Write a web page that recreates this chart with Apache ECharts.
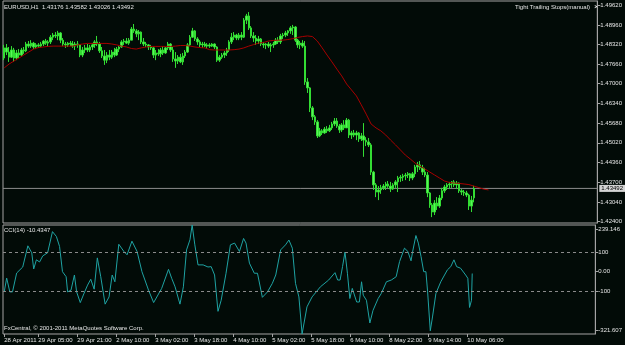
<!DOCTYPE html>
<html>
<head>
<meta charset="utf-8">
<script src="https://cdn.jsdelivr.net/npm/echarts@6/dist/echarts.min.js"></script>
<style>
html,body{margin:0;padding:0;background:#020b07;}
#c{width:625px;height:345px;}
</style>
</head>
<body>
<div id="c"></div>
<script>
// ---- data ----
const opens = [
1.4786,1.4820,1.4806,1.4789,1.4813,1.4786,1.4803,1.4796,1.4813,1.4810,
1.4833,1.4826,1.4836,1.4823,1.4830,1.4826,1.4833,1.4843,1.4836,1.4840,
1.4856,1.4863,1.4860,1.4870,1.4846,1.4833,1.4830,1.4836,1.4833,1.4826,
1.4833,1.4830,1.4796,1.4813,1.4820,1.4813,1.4823,1.4830,1.4840,1.4833,
1.4810,1.4793,1.4779,1.4796,1.4789,1.4806,1.4796,1.4816,1.4823,1.4840,
1.4843,1.4836,1.4846,1.4883,1.4877,1.4867,1.4873,1.4840,1.4833,1.4830,
1.4823,1.4820,1.4796,1.4803,1.4800,1.4813,1.4803,1.4820,1.4833,1.4813,
1.4783,1.4776,1.4789,1.4773,1.4793,1.4806,1.4830,1.4856,1.4877,1.4850,
1.4840,1.4830,1.4833,1.4826,1.4830,1.4826,1.4833,1.4823,1.4779,1.4789,
1.4796,1.4803,1.4813,1.4840,1.4856,1.4863,1.4853,1.4863,1.4856,1.4913,
1.4927,1.4887,1.4860,1.4853,1.4843,1.4850,1.4833,1.4830,1.4833,1.4826,
1.4830,1.4833,1.4846,1.4840,1.4860,1.4863,1.4870,1.4877,1.4887,1.4890,
1.4846,1.4830,1.4836,1.4826,1.4706,1.4686,1.4619,1.4589,1.4572,1.4525,
1.4542,1.4535,1.4548,1.4542,1.4552,1.4565,1.4575,1.4558,1.4545,1.4562,
1.4552,1.4578,1.4528,1.4535,1.4528,1.4535,1.4515,1.4525,1.4511,1.4505,
1.4495,1.4404,1.4361,1.4337,1.4344,1.4351,1.4357,1.4364,1.4357,1.4347,
1.4361,1.4371,1.4384,1.4387,1.4391,1.4394,1.4398,1.4384,1.4398,1.4421,
1.4428,1.4418,1.4404,1.4394,1.4334,1.4294,1.4270,1.4300,1.4290,1.4317,
1.4341,1.4354,1.4361,1.4364,1.4371,1.4361,1.4367,1.4341,1.4337,1.4334,
1.4327,1.4290,1.43176];
const closes = [
1.4820,1.4806,1.4789,1.4813,1.4786,1.4803,1.4796,1.4813,1.4810,1.4833,
1.4826,1.4836,1.4823,1.4830,1.4826,1.4833,1.4843,1.4836,1.4840,1.4856,
1.4863,1.4860,1.4870,1.4846,1.4833,1.4830,1.4836,1.4833,1.4826,1.4833,
1.4830,1.4796,1.4813,1.4820,1.4813,1.4823,1.4830,1.4840,1.4833,1.4810,
1.4793,1.4779,1.4796,1.4789,1.4806,1.4796,1.4816,1.4823,1.4840,1.4843,
1.4836,1.4846,1.4883,1.4877,1.4867,1.4873,1.4840,1.4833,1.4830,1.4823,
1.4820,1.4796,1.4803,1.4800,1.4813,1.4803,1.4820,1.4833,1.4813,1.4783,
1.4776,1.4789,1.4773,1.4793,1.4806,1.4830,1.4856,1.4877,1.4850,1.4840,
1.4830,1.4833,1.4826,1.4830,1.4826,1.4833,1.4823,1.4779,1.4789,1.4796,
1.4803,1.4813,1.4840,1.4856,1.4863,1.4853,1.4863,1.4856,1.4913,1.4927,
1.4887,1.4860,1.4853,1.4843,1.4850,1.4833,1.4830,1.4833,1.4826,1.4830,
1.4833,1.4846,1.4840,1.4860,1.4863,1.4870,1.4877,1.4887,1.4890,1.4846,
1.4830,1.4836,1.4826,1.4706,1.4686,1.4619,1.4589,1.4572,1.4525,1.4542,
1.4535,1.4548,1.4542,1.4552,1.4565,1.4575,1.4558,1.4545,1.4562,1.4552,
1.4578,1.4528,1.4535,1.4528,1.4535,1.4515,1.4525,1.4511,1.4505,1.4495,
1.4404,1.4361,1.4337,1.4344,1.4351,1.4357,1.4364,1.4357,1.4347,1.4361,
1.4371,1.4384,1.4387,1.4391,1.4394,1.4398,1.4384,1.4398,1.4421,1.4428,
1.4418,1.4404,1.4394,1.4334,1.4294,1.4270,1.4300,1.4290,1.4317,1.4341,
1.4354,1.4361,1.4364,1.4371,1.4361,1.4367,1.4341,1.4337,1.4334,1.4327,
1.4290,1.4310,1.43492];
const highs = [
1.4830,1.4833,1.4823,1.4826,1.4820,1.4813,1.4816,1.4820,1.4823,1.4840,
1.4843,1.4846,1.4840,1.4836,1.4836,1.4840,1.4846,1.4850,1.4846,1.4863,
1.4870,1.4873,1.4877,1.4873,1.4853,1.4840,1.4840,1.4843,1.4843,1.4840,
1.4843,1.4833,1.4823,1.4830,1.4833,1.4830,1.4836,1.4846,1.4860,1.4840,
1.4823,1.4813,1.4806,1.4813,1.4813,1.4820,1.4823,1.4826,1.4846,1.4850,
1.4853,1.4853,1.4890,1.4900,1.4883,1.4880,1.4875,1.4853,1.4840,1.4833,
1.4830,1.4823,1.4813,1.4816,1.4820,1.4826,1.4823,1.4840,1.4836,1.4823,
1.4806,1.4796,1.4800,1.4803,1.4813,1.4836,1.4863,1.4887,1.4880,1.4856,
1.4846,1.4840,1.4840,1.4836,1.4836,1.4836,1.4835,1.4826,1.4796,1.4803,
1.4810,1.4820,1.4846,1.4870,1.4873,1.4867,1.4870,1.4873,1.4920,1.4934,
1.4940,1.4893,1.4873,1.4863,1.4860,1.4853,1.4840,1.4836,1.4840,1.4836,
1.4840,1.4853,1.4856,1.4867,1.4870,1.4877,1.4880,1.4893,1.4897,1.4893,
1.4850,1.4843,1.4846,1.4843,1.4719,1.4689,1.4625,1.4595,1.4578,1.4552,
1.4548,1.4555,1.4558,1.4562,1.4572,1.4585,1.4585,1.4565,1.4568,1.4578,
1.4585,1.4582,1.4542,1.4545,1.4542,1.4538,1.4535,1.4568,1.4521,1.4518,
1.4501,1.4408,1.4367,1.4357,1.4361,1.4364,1.4371,1.4374,1.4371,1.4367,
1.4377,1.4391,1.4394,1.4398,1.4401,1.4404,1.4401,1.4404,1.4428,1.4438,
1.4441,1.4428,1.4418,1.4404,1.4337,1.4300,1.4310,1.4320,1.4327,1.4351,
1.4361,1.4367,1.4371,1.4374,1.4377,1.4374,1.4369,1.4347,1.4344,1.4341,
1.4331,1.4324,1.43582];
const lows = [
1.4779,1.4796,1.4773,1.4786,1.4773,1.4779,1.4786,1.4793,1.4800,1.4806,
1.4820,1.4820,1.4816,1.4816,1.4820,1.4823,1.4826,1.4830,1.4826,1.4833,
1.4846,1.4853,1.4846,1.4836,1.4826,1.4820,1.4823,1.4826,1.4820,1.4813,
1.4820,1.4789,1.4789,1.4803,1.4806,1.4806,1.4813,1.4820,1.4826,1.4803,
1.4786,1.4763,1.4769,1.4779,1.4783,1.4789,1.4793,1.4806,1.4820,1.4830,
1.4833,1.4830,1.4846,1.4870,1.4856,1.4846,1.4833,1.4826,1.4823,1.4813,
1.4813,1.4786,1.4779,1.4793,1.4789,1.4796,1.4800,1.4813,1.4806,1.4773,
1.4753,1.4766,1.4769,1.4763,1.4786,1.4803,1.4826,1.4853,1.4843,1.4830,
1.4823,1.4820,1.4823,1.4820,1.4820,1.4823,1.4816,1.4773,1.4773,1.4783,
1.4786,1.4793,1.4806,1.4833,1.4846,1.4846,1.4846,1.4846,1.4853,1.4900,
1.4880,1.4853,1.4840,1.4830,1.4833,1.4826,1.4820,1.4816,1.4820,1.4806,
1.4820,1.4830,1.4833,1.4833,1.4850,1.4856,1.4860,1.4867,1.4863,1.4840,
1.4820,1.4816,1.4820,1.4696,1.4669,1.4605,1.4578,1.4562,1.4518,1.4521,
1.4528,1.4532,1.4535,1.4538,1.4545,1.4558,1.4552,1.4535,1.4538,1.4545,
1.4552,1.4518,1.4515,1.4521,1.4511,1.4505,1.4508,1.4455,1.4491,1.4488,
1.4394,1.4344,1.4320,1.4310,1.4331,1.4344,1.4344,1.4351,1.4337,1.4344,
1.4351,1.4337,1.4371,1.4374,1.4377,1.4384,1.4374,1.4377,1.4387,1.4404,
1.4411,1.4394,1.4387,1.4320,1.4284,1.4253,1.4260,1.4277,1.4284,1.4310,
1.4334,1.4344,1.4347,1.4351,1.4354,1.4347,1.4334,1.4327,1.4324,1.4320,
1.4277,1.4270,1.43026];

// moving average (red), read every second bar, shifted past the last bar
const maPoints = [
[0,1.4753],[2,1.4766],[4,1.4776],[6,1.4786],[8,1.4796],[10,1.4806],[12,1.4816],[14,1.4821],
[16,1.4823],[18,1.4825],[20,1.4826],[22,1.4826],[24,1.4826],[26,1.4826],[28,1.4826],[30,1.4830],
[32,1.4833],[34,1.4835],[36,1.4835],[38,1.4835],[40,1.4835],[42,1.4835],[44,1.4833],[46,1.4830],
[48,1.4826],[50,1.4823],[52,1.4818],[54,1.4816],[56,1.4820],[58,1.4823],[60,1.4825],[62,1.4825],
[64,1.4825],[66,1.4825],[68,1.4825],[70,1.4826],[72,1.4828],[74,1.4828],[76,1.4826],[78,1.4823],
[80,1.4821],[82,1.4820],[84,1.4814],[86,1.4813],[88,1.4813],[90,1.4813],[92,1.4813],[94,1.4814],
[96,1.4816],[98,1.4820],[100,1.4826],[102,1.4831],[104,1.4836],[106,1.4838],[108,1.4843],[110,1.4845],
[112,1.4846],[114,1.4846],[116,1.4848],[118,1.4851],[120,1.4855],[122,1.4858],[124,1.4860],[126,1.4858],
[128,1.4843],[130,1.4820],[132,1.4796],[134,1.4773],[136,1.4749],[138,1.4726],[140,1.4699],[142,1.4679],
[144,1.4659],[146,1.4629],[148,1.4598],[150,1.4565],[152,1.4552],[154,1.4542],[156,1.4528],[158,1.4511],
[160,1.4495],[162,1.4478],[164,1.4461],[166,1.4448],[168,1.4434],[170,1.4424],[172,1.4414],[174,1.4404],
[176,1.4394],[178,1.4384],[180,1.4374],[182,1.4369],[184,1.4367],[186,1.4366],[188,1.4364],[190,1.4362],
[192,1.4357],[194,1.4352],[196,1.4347],[198,1.4344]];

// CCI(14) read as [bar position, value]
const cciPoints = [
[0,-105],[1.0,-34],[2.3,-105],[3.4,-105],[5.1,-8],[7.6,23],[9.7,132],[11.3,96],[12.1,13],[13.2,60],
[14.5,49],[15.8,80],[17.8,96],[18.6,86],[19.8,205],[21.4,180],[22.7,129],[23.9,-1],[25.4,-27],[26.0,-105],
[27.4,-96],[28.8,-18],[29.7,-105],[31.2,-160],[32.8,-111],[34.2,-70],[35.5,-40],[36.9,-91],[38.2,70],[39.6,-27],
[41.4,-168],[43.0,-131],[44.3,-18],[45.4,-53],[47.0,140],[49.1,103],[50.4,86],[52.4,156],[54.5,103],[56.5,-1],
[59.2,-96],[61.3,-160],[64.6,-87],[67.4,11],[68.7,-35],[70.1,-79],[72.1,-168],[73.5,-79],[74.8,111],[76.2,163],
[77.1,239.146],[78.2,137],[79.5,34],[81.6,34],[83.6,23],[84.9,25],[86.3,-18],[87.7,-205],[89.0,-148],[91.0,-9],
[92.8,137],[94.5,146],[96.5,103],[98.2,170],[99.2,146],[100.6,43],[102.6,-9],[103.9,-9],[105.9,-133],[108.0,-105],
[110.0,-61],[111.4,-18],[113.4,111],[115.4,137],[116.8,162],[118.2,120],[119.5,-61],[120.9,-131],[122.2,-321.607],[124.2,-182],
[126.3,-131],[129.7,-79],[133.1,-44],[135.7,-6],[136.8,-44],[137.8,-44],[138.8,25],[139.8,100],[140.8,-9],[141.8,-139],
[142.8,-87],[144.6,-157],[145.7,-157],[146.6,-53],[147.3,-122],[148.6,-148],[150.0,-265],[151.3,-200],[153.4,-139],[154.7,-113],
[156.8,-53],[158.8,-44],[160.8,-27],[162.2,51],[164.2,120],[165.6,103],[166.9,55],[167.6,105],[168.9,185],[169.9,146],
[171.0,77],[172.1,-1],[173.0,-1],[173.7,-105],[174.8,-305],[175.7,-234],[177.1,-113],[179.1,-53],[181.8,8],[183.2,25],
[184.5,60],[185.6,25],[187.2,17],[189.3,-18],[190.2,-35],[190.9,-185],[191.7,-148],[192,-10.4347]];

const priceTicks = [1.4962,1.4896,1.4832,1.4766,1.4700,1.4634,1.4568,1.4502,1.4436,1.4370,1.4304,1.4240];
const cciTicks = [239.146,100,0,-100,-321.607];
const cciTickText = ['239.146','100','0.00','-100','-321.607'];
const timeLabels = ['28 Apr 2011','29 Apr 05:00','29 Apr 21:00','2 May 10:00','3 May 02:00','3 May 18:00','4 May 10:00','5 May 02:00','5 May 18:00','6 May 10:00','8 May 22:00','9 May 14:00','10 May 06:00'];
const timeLabelBars = [0,14,30,46,62,78,94,110,126,142,158,174,190];
const header = 'EURUSD,H1  1.43176 1.43582 1.43026 1.43492';
const cciTitle = 'CCI(14) -10.4347';
const eaTitle = 'Tight Trailing Stops(manual)';
const copyright = 'FxCentral, \u00a9 2001-2011 MetaQuotes Software Corp.';
const bidPrice = 1.43492;
const slotCount = 243;

// ---- chart ----
const categories = [];
for (let i = 0; i < slotCount; i++) categories.push(String(i));
const candles = opens.map((o, i) => [o, closes[i], lows[i], highs[i]]);

const frame = '#a4a4a4';
const txt = '#e6e6e6';
const FF = '"Liberation Sans", Arial, sans-serif';
const FS = 6;

// CCI panel: keep the extreme labels inside the panel (about 4 px inside)
const cciMax = cciTicks[0], cciMin = cciTicks[cciTicks.length - 1];
const cciPanelH = 109;
const cciUnitsPerPx = (cciMax - cciMin) / cciPanelH;
const cciLabelPos = cciTicks.map((v, k) => k === 0 ? v - 4 * cciUnitsPerPx : (k === cciTicks.length - 1 ? v + 4 * cciUnitsPerPx : v));

const chart = echarts.init(document.getElementById('c'), null, {renderer: 'canvas'});
const showLabel = (idx) => timeLabelBars.indexOf(idx) >= 0;

chart.setOption({
  animation: false,
  backgroundColor: '#020b07',
  grid: [
    {left: 3, top: 1, width: 598, height: 222, show: true, borderColor: frame, borderWidth: 1, backgroundColor: 'transparent'},
    {left: 3, top: 225, width: 598, height: cciPanelH, show: true, borderColor: frame, borderWidth: 1, backgroundColor: 'transparent'}
  ],
  xAxis: [
    {type: 'category', gridIndex: 0, data: categories, boundaryGap: true,
     axisLine: {show: false, onZero: false}, axisTick: {show: false}, axisLabel: {show: false}, splitLine: {show: false}},
    {type: 'category', gridIndex: 1, data: categories, boundaryGap: true, position: 'bottom',
     axisLine: {show: false, onZero: false},
     axisTick: {show: true, interval: (i) => showLabel(i), alignWithLabel: true, length: 3, lineStyle: {color: frame}},
     axisLabel: {show: true, interval: (i) => showLabel(i), align: 'left', margin: 3, color: txt, fontSize: FS, fontFamily: FF,
                 formatter: (v, i) => timeLabels[timeLabelBars.indexOf(i)] || ''},
     splitLine: {show: false}},
    {type: 'value', gridIndex: 0, min: -0.5, max: slotCount - 0.5, show: false, axisLine: {onZero: false}},
    {type: 'value', gridIndex: 1, min: -0.5, max: slotCount - 0.5, show: false, axisLine: {onZero: false}}
  ],
  yAxis: [
    {type: 'value', gridIndex: 0, position: 'right', min: 1.42333, max: 1.49771,
     splitLine: {show: false},
     axisLine: {show: true, onZero: false, lineStyle: {color: frame}},
     axisTick: {show: true, length: 3, lineStyle: {color: frame}, customValues: priceTicks},
     axisLabel: {show: true, customValues: priceTicks, formatter: (v) => v.toFixed(5), color: txt, fontSize: FS, fontFamily: FF, margin: 3}},
    {type: 'value', gridIndex: 1, position: 'right', min: cciMin, max: cciMax,
     splitLine: {show: false},
     axisLine: {show: true, onZero: false, lineStyle: {color: frame}},
     axisTick: {show: true, length: 3, lineStyle: {color: frame}, customValues: cciLabelPos},
     axisLabel: {show: true, customValues: cciLabelPos, color: txt, fontSize: FS, fontFamily: FF, margin: 3,
                 formatter: (v) => {
                   let best = 0, d = Infinity;
                   cciLabelPos.forEach((p, k) => { if (Math.abs(p - v) < d) { d = Math.abs(p - v); best = k; } });
                   return cciTickText[best];
                 }}}
  ],
  series: [
    {type: 'line', name: 'bid', xAxisIndex: 2, yAxisIndex: 0, silent: true, showSymbol: false, z: 1,
     data: [[-0.5, bidPrice], [slotCount - 0.5, bidPrice]],
     lineStyle: {color: '#8c8c8c', width: 1},
     endLabel: {show: true, formatter: bidPrice.toFixed(5), backgroundColor: '#d4d4d4', color: '#000',
                fontSize: FS, fontFamily: FF, padding: [1, 2, 0, 2], distance: 2}},
    {type: 'candlestick', xAxisIndex: 0, yAxisIndex: 0, data: candles, barWidth: 2, z: 2,
     itemStyle: {color: '#5cf55c', color0: '#5cf55c', borderColor: '#33dd33', borderColor0: '#33dd33', borderWidth: 1}},
    {type: 'line', xAxisIndex: 2, yAxisIndex: 0, data: maPoints, showSymbol: false, silent: true, z: 3,
     lineStyle: {color: '#a80000', width: 1}},
    {type: 'line', xAxisIndex: 3, yAxisIndex: 1, data: cciPoints, showSymbol: false, silent: true,
     lineStyle: {color: '#1fa3a3', width: 1},
     markLine: {silent: true, symbol: ['none', 'none'], animation: false,
       lineStyle: {color: '#8a8a8a', type: [3, 3], width: 1}, label: {show: false},
       data: [{yAxis: 100}, {yAxis: -100}]}}
  ],
  graphic: [
    {type: 'text', left: 4, top: 4, silent: true, style: {text: header, fill: txt, fontSize: FS, fontFamily: FF}},
    {type: 'text', right: 35, top: 4, silent: true, style: {text: eaTitle, fill: txt, fontSize: FS, fontFamily: FF}},
    {type: 'text', left: 594, top: 3, silent: true, style: {text: '\u00d7', fill: '#ffffff', fontSize: 8, fontFamily: FF}},
    {type: 'text', left: 4, top: 227, silent: true, style: {text: cciTitle, fill: txt, fontSize: FS, fontFamily: FF}},
    {type: 'text', left: 4, top: 325, silent: true, style: {text: copyright, fill: txt, fontSize: FS, fontFamily: FF}}
  ]
});
</script>
</body>
</html>
